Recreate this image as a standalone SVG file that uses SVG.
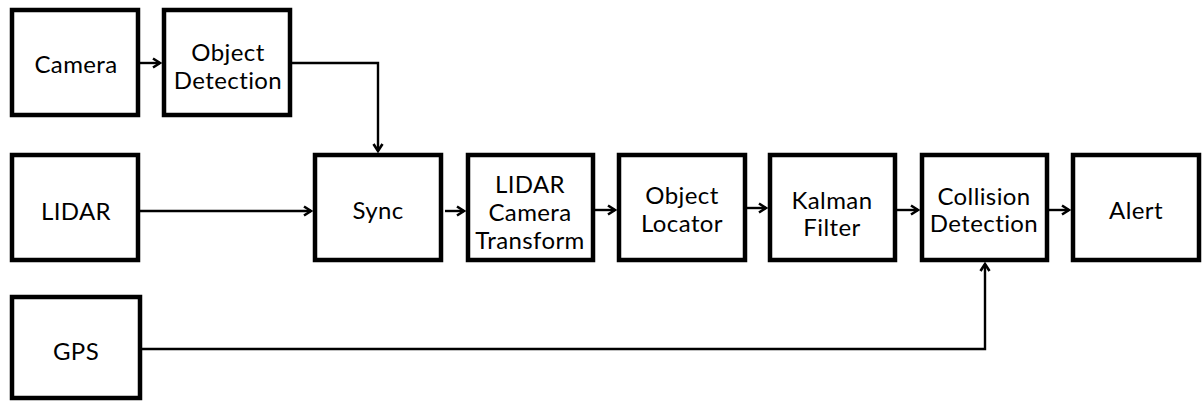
<svg xmlns="http://www.w3.org/2000/svg" width="1203" height="401" viewBox="0 0 1203 401">
<style>
.box{fill:#fff;stroke:#000;stroke-width:4.5}
.lbl{font-family:Lato,"Noto Sans",sans-serif;font-size:24px;letter-spacing:0.4px;fill:#000;text-anchor:middle;dominant-baseline:central}
.wire{fill:none;stroke:#000;stroke-width:2.4}
</style>
<defs>
<marker id="arr" markerWidth="10" markerHeight="12" refX="8" refY="6" orient="auto" markerUnits="userSpaceOnUse">
<path d="M1,1.5 L8,6 L1,10.5" fill="none" stroke="#000" stroke-width="2.6"/>
</marker>
</defs>
<g id="connectors">
<path class="wire" d="M140,63 H160" marker-end="url(#arr)"/>
<path class="wire" d="M292,63 H378 V151" marker-end="url(#arr)"/>
<path class="wire" d="M140,211 H311" marker-end="url(#arr)"/>
<path class="wire" d="M445,211 H464" marker-end="url(#arr)"/>
<path class="wire" d="M595,210 H615" marker-end="url(#arr)"/>
<path class="wire" d="M747,208 H766" marker-end="url(#arr)"/>
<path class="wire" d="M897,210 H918" marker-end="url(#arr)"/>
<path class="wire" d="M1049,210 H1069" marker-end="url(#arr)"/>
<path class="wire" d="M142,349 H985 V264" marker-end="url(#arr)"/>
</g>
<g id="camera"><rect class="box" x="12" y="10" width="126" height="105"/><text class="lbl" x="76" y="63">Camera</text></g>
<g id="object-detection"><rect class="box" x="164" y="10" width="126" height="105"/><text class="lbl" x="228" y="51">Object</text><text class="lbl" x="228" y="79">Detection</text></g>
<g id="lidar"><rect class="box" x="12" y="155" width="126" height="105"/><text class="lbl" x="76" y="210">LIDAR</text></g>
<g id="sync"><rect class="box" x="315" y="155" width="126" height="105"/><text class="lbl" x="378" y="209">Sync</text></g>
<g id="lidar-camera-transform"><rect class="box" x="468" y="155" width="125" height="105"/><text class="lbl" x="530" y="183">LIDAR</text><text class="lbl" x="530" y="211">Camera</text><text class="lbl" x="530" y="239">Transform</text></g>
<g id="object-locator"><rect class="box" x="619" y="155" width="126" height="105"/><text class="lbl" x="682" y="194">Object</text><text class="lbl" x="682" y="222">Locator</text></g>
<g id="kalman-filter"><rect class="box" x="770" y="155" width="125" height="105"/><text class="lbl" x="832" y="199">Kalman</text><text class="lbl" x="832" y="226">Filter</text></g>
<g id="collision-detection"><rect class="box" x="922" y="155" width="125" height="105"/><text class="lbl" x="984" y="195">Collision</text><text class="lbl" x="984" y="222">Detection</text></g>
<g id="alert"><rect class="box" x="1073" y="155" width="126" height="105"/><text class="lbl" x="1136" y="209">Alert</text></g>
<g id="gps"><rect class="box" x="12" y="297" width="128" height="101"/><text class="lbl" x="76" y="350">GPS</text></g>
</svg>
